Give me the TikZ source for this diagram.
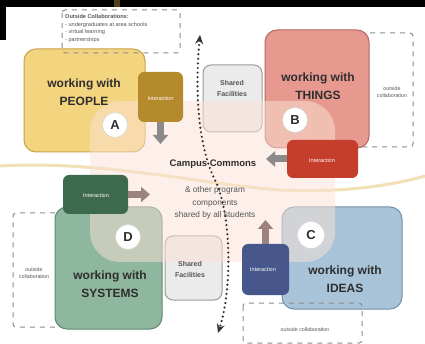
\documentclass[tikz,border=0pt]{standalone}
\usepackage{fontspec}
\setmainfont{Liberation Sans}
\usetikzlibrary{arrows.meta}
\definecolor{yelF}{HTML}{F3D47F}
\definecolor{yelD}{HTML}{C9A24A}
\definecolor{goldI}{HTML}{B58A2C}
\definecolor{redF}{HTML}{E7998F}
\definecolor{redD}{HTML}{B5685F}
\definecolor{redI}{HTML}{C43E2B}
\definecolor{grnF}{HTML}{8FB69E}
\definecolor{grnD}{HTML}{5E8A70}
\definecolor{grnI}{HTML}{3D6A4D}
\definecolor{bluF}{HTML}{A9C3D9}
\definecolor{bluD}{HTML}{7390A8}
\definecolor{bluI}{HTML}{47578C}
\definecolor{shF}{HTML}{EBEBEB}
\definecolor{shD}{HTML}{9A9A9A}
\definecolor{dashc}{HTML}{8C8C8C}
\definecolor{garr}{HTML}{8A8A8A}
\definecolor{marr}{HTML}{9C8280}
\definecolor{overc}{HTML}{FCE3D6}
\definecolor{bandc}{HTML}{F2E0B5}
\definecolor{txt}{HTML}{2E2E2E}
\definecolor{smalltxt}{HTML}{555555}
\tikzset{
  bigbox/.style={draw, line width=1pt, rounded corners=12pt, inner sep=0pt},
  intbox/.style={rounded corners=6pt, inner sep=0pt, text=white, font=\fontsize{5.5}{6}\selectfont},
  sharebox/.style={draw=shD, fill=shF, line width=1pt, rounded corners=8pt, inner sep=0pt},
  biglbl/.style={font=\fontsize{12}{18}\selectfont\bfseries, align=center, text=txt},
  letterc/.style={circle, fill=white, draw=white!85!black, line width=0.6pt, minimum size=25pt, inner sep=0pt, font=\fontsize{13}{13}\selectfont\bfseries, text=txt},
  dashbox/.style={draw=dashc, line width=1pt, dash pattern=on 5pt off 5pt, rounded corners=3pt},
  tinylbl/.style={font=\fontsize{5.3}{6.5}\selectfont, text=smalltxt, align=center},
  garrow/.style={draw=#1, line width=7pt, -{Triangle[width=15pt,length=9pt]}},
  dotpath/.style={draw=black!80, line width=2.4pt, line cap=round, dash pattern=on 0pt off 4.6pt},
}
\begin{document}
\begin{tikzpicture}[x=1pt,y=-1pt]
\useasboundingbox (0,0) rectangle (425,344);
\fill[white] (0,0) rectangle (425,344);
\fill[black] (0,0) rectangle (425,7);
\fill[black] (0,0) rectangle (6,40);
\fill[black!60!yelD] (114,0) rectangle (120,7);

% commons band
\draw[bandc, line width=3pt] (0,166) .. controls (100,160) and (200,184) .. (280,190) .. controls (340,193) and (390,186) .. (425,176);

% side dashed brackets
\draw[dashbox] (360,33) -- (413,33) -- (413,147) -- (360,147);
\draw[dashbox] (65,213) -- (13,213) -- (13,327) -- (65,327);

% main boxes
\node[bigbox, draw=yelD, fill=yelF, minimum width=121pt, minimum height=103pt] (A) at (84.5,100.5) {};
\node[bigbox, draw=redD, fill=redF, minimum width=104pt, minimum height=118pt] (B) at (317,89) {};
\node[bigbox, draw=grnD, fill=grnF, minimum width=107pt, minimum height=122pt] (D) at (108.5,268) {};
\node[bigbox, draw=bluD, fill=bluF, minimum width=120pt, minimum height=102pt] (C) at (342,258) {};
\node[sharebox, minimum width=59pt, minimum height=67pt] (S1) at (232.5,98.5) {};
\node[sharebox, minimum width=57pt, minimum height=64pt] (S2) at (193.5,268) {};

% pale commons overlay
\fill[overc, opacity=0.5, rounded corners=30pt] (90,101) rectangle (335,262);

% dashed boxes over boxes
\draw[dashbox] (62,10) rectangle (180,53);
\draw[dashbox] (243,303) rectangle (362,343);

% texts in dashed boxes
\node[anchor=north west, inner sep=0pt, align=left, text=smalltxt, font=\fontsize{5.6}{7.8}\selectfont] (oc) at (65,14) {\textbf{Outside Collaborations:}\\- undergraduates at area schools\\- virtual learning\\- partnerships};
\node[tinylbl] (ocR) at (392,92) {outside\\collaboration};
\node[tinylbl] (ocL) at (34,273) {outside\\collaboration};
\node[tinylbl] (ocB) at (305,330) {outside collaboration};

% labels in boxes
\node[biglbl] (tA) at (84,92) {working with\\PEOPLE};
\node[biglbl] (tB) at (318,86) {working with\\THINGS};
\node[biglbl] (tD) at (110,284) {working with\\SYSTEMS};
\node[biglbl] (tC) at (345,279) {working with\\IDEAS};
\node[align=center, text=smalltxt, font=\fontsize{7}{11}\selectfont\bfseries] (sf1) at (232,89) {Shared\\Facilities};
\node[align=center, text=smalltxt, font=\fontsize{7}{11}\selectfont\bfseries] (sf2) at (190,269) {Shared\\Facilities};

% letters
\node[letterc] (cA) at (115,125) {A};
\node[letterc] (cB) at (295,120) {B};
\node[letterc] (cD) at (128,237) {D};
\node[letterc, minimum size=27pt] (cC) at (311,235) {C};

% interaction boxes
\node[intbox, fill=goldI, minimum width=45pt, minimum height=50pt] (iA) at (160.5,97) {};
\node[intbox, fill=redI, minimum width=71pt, minimum height=38pt] (iB) at (322.5,159) {};
\node[intbox, fill=grnI, minimum width=65pt, minimum height=39pt] (iD) at (95.5,194.5) {};
\node[intbox, fill=bluI, minimum width=47pt, minimum height=51pt] (iC) at (265.5,269.5) {};
\node[intbox] at (160.5,99) {Interaction};
\node[intbox] at (322,161) {Interaction};
\node[intbox] at (96,196) {Interaction};
\node[intbox] at (263,270) {Interaction};

% interaction arrows
\coordinate (tipA) at (160.5,144);
\coordinate (tipB) at (266,159);
\coordinate (tipD) at (150,194.5);
\coordinate (tipC) at (265.5,220);
\draw[garrow=garr] (iA.south) -- (tipA);
\draw[garrow=garr] (iB.west) -- (tipB);
\draw[garrow=marr] (iD.east) -- (tipD);
\draw[garrow=marr] (iC.north) -- (tipC);

% commons text
\node[font=\fontsize{9.5}{10}\selectfont\bfseries, text=txt] (cc) at (213,164) {Campus Commons};
\node[align=center, text=smalltxt, font=\fontsize{8.3}{12.5}\selectfont] (oth) at (215,203) {\& other program\\components\\shared by all students};

% dotted double arrow
\coordinate (dtop) at (200,35);
\coordinate (dbot) at (218,333);
\draw[dotpath, {Stealth[length=9pt,width=8pt]}-{Stealth[length=9pt,width=8pt]}] (dtop) .. controls (194,100) and (200,150) .. (215,180) .. controls (232,215) and (232,290) .. (dbot);
\end{tikzpicture}
\end{document}
